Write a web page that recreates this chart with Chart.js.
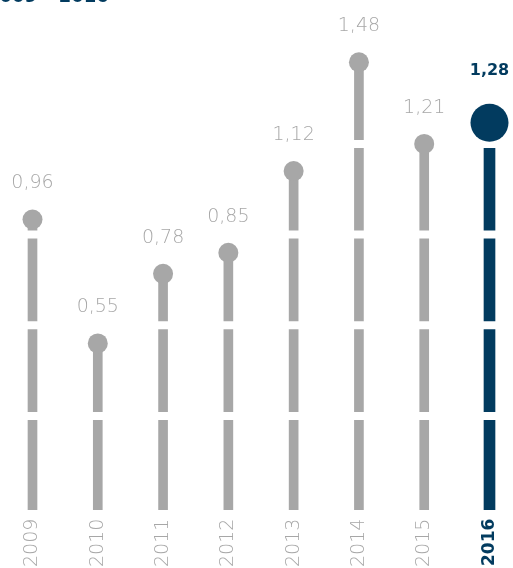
<!DOCTYPE html>
<html>
<head>
<meta charset="utf-8">
<script src="https://cdn.jsdelivr.net/npm/chart.js@4.4.0/dist/chart.umd.min.js"></script>
<style>
  html, body { margin: 0; padding: 0; background: #fff; }
  canvas { display: block; }
</style>
</head>
<body>
<canvas id="myChart" width="513" height="568"></canvas>
<script>
'use strict'

let years = ['2009', '2010', '2011', '2012', '2013', '2014', '2015', '2016'];
let values = [0.96, 0.55, 0.78, 0.85, 1.12, 1.48, 1.21, 1.28];
let valueLabels = ['0,96', '0,55', '0,78', '0,85', '1,12', '1,48', '1,21', '1,28'];
let gapValues = [0.31, 0.61, 0.91, 1.21];  // white breaks cut through the bars
let titleText = '2009 – 2016';
let currentYear = '2016';

let grey = '#a7a7a7';
let navy = '#023b5f';
let hl = years.indexOf(currentYear);

// split so the current year can get its own bar width
let greyData = values.map((v, i) => i === hl ? null : v);
let navyData = values.map((v, i) => i === hl ? v : null);

// white lines drawn after the bars but before the dots
let gapPlugin = {
    id: 'gaps',
    beforeDatasetDraw(chart, args) {
        if (args.meta.type !== 'line') return;
        let ctx = chart.ctx;
        let y = chart.scales.y;
        let area = chart.chartArea;
        ctx.save();
        ctx.strokeStyle = '#ffffff';
        ctx.lineWidth = 8;
        gapValues.forEach(v => {
            let py = y.getPixelForValue(v);
            ctx.beginPath();
            ctx.moveTo(area.left - 20, py);
            ctx.lineTo(area.right + 20, py);
            ctx.stroke();
        });
        ctx.restore();
    }
};

let labelPlugin = {
    id: 'valueLabels',
    afterDatasetsDraw(chart) {
        let ctx = chart.ctx;
        let meta = chart.getDatasetMeta(0);
        ctx.save();
        ctx.textAlign = 'center';
        ctx.textBaseline = 'alphabetic';
        meta.data.forEach((pt, i) => {
            if (i === hl) {
                ctx.font = 'bold 16px "DejaVu Sans"';
                ctx.fillStyle = navy;
                ctx.fillText(valueLabels[i], pt.x, pt.y - 48);
            } else {
                ctx.font = '200 19px "DejaVu Sans"';
                ctx.fillStyle = grey;
                ctx.fillText(valueLabels[i], pt.x, pt.y - 31);
            }
        });
        // heading, mostly cut off at the top edge
        ctx.font = 'bold 18px "DejaVu Sans"';
        ctx.fillStyle = navy;
        ctx.textAlign = 'left';
        ctx.fillText(titleText, -13, 2);
        ctx.restore();
    }
};

let ctx = document.getElementById('myChart').getContext('2d');
let chart = new Chart(ctx, {
    data: {
        labels: years,
        datasets: [{
            type: 'line',
            data: values,
            showLine: false,
            order: 0,
            clip: false,
            pointRadius: c => c.dataIndex === hl ? 19 : 10,
            pointHoverRadius: c => c.dataIndex === hl ? 19 : 10,
            pointBackgroundColor: c => c.dataIndex === hl ? navy : grey,
            pointBorderWidth: 0
        }, {
            type: 'bar',
            data: greyData,
            order: 1,
            clip: false,
            grouped: false,
            barThickness: 9,
            backgroundColor: grey,
            borderWidth: 0
        }, {
            type: 'bar',
            data: navyData,
            order: 1,
            clip: false,
            grouped: false,
            barThickness: 11,
            backgroundColor: navy,
            borderWidth: 0
        }]
    },
    options: {
        responsive: false,
        animation: false,
        layout: { padding: { left: 32.5, right: 23.5, top: 26, bottom: -8 } },
        plugins: { legend: { display: false }, tooltip: { enabled: false } },
        scales: {
            x: {
                offset: false,
                grid: { display: false, drawTicks: false },
                border: { display: false },
                // rotated labels would otherwise push the plot inwards
                afterFit: scale => { scale.paddingLeft = 0; scale.paddingRight = 0; },
                ticks: {
                    autoSkip: false,
                    minRotation: 90,
                    maxRotation: 90,
                    padding: 9,
                    color: c => c.index === hl ? navy : grey,
                    font: c => c.index === hl
                        ? { family: 'DejaVu Sans', size: 17, weight: 'bold' }
                        : { family: 'DejaVu Sans', size: 19, weight: '200' }
                }
            },
            y: {
                display: false,
                min: 0,
                max: 1.6
            }
        }
    },
    plugins: [gapPlugin, labelPlugin]
});
</script>
</body>
</html>
